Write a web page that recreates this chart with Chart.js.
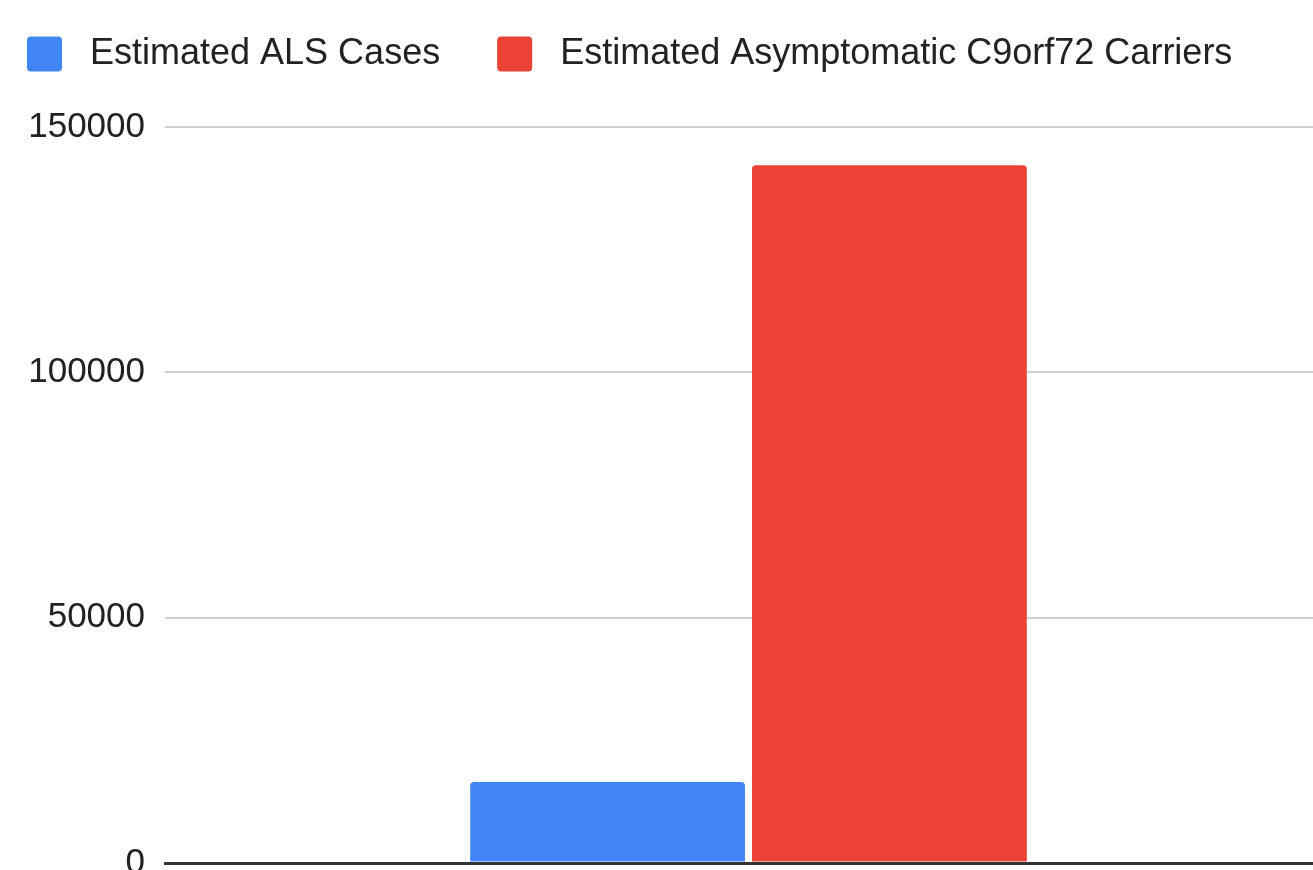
<!DOCTYPE html>
<html>

<head>
  <title>Estimated ALS Cases and Asymptomatic C9orf72 Carriers</title>
  <meta charset="UTF-8">
  <script src="https://cdn.jsdelivr.net/npm/chart.js@4.4.0/dist/chart.umd.min.js"></script>
  <style>
    html, body { margin: 0; padding: 0; overflow: hidden; background: #fff; }
    #wrap { position: absolute; left: 0; top: 0; width: 1345px; height: 904px; }
  </style>
</head>

<body>
  <div id="wrap"><canvas id="myChart"></canvas></div>
  <script>
    var categories = [''];
    var alsCases = [16500];
    var c9orf72Carriers = [142200];
    var seriesNames = ['Estimated ALS Cases', 'Estimated Asymptomatic C9orf72 Carriers'];
    var yMin = 0;
    var yMax = 150000;
    var yStep = 50000;

    Chart.defaults.font.family = 'Arial, "Liberation Sans", sans-serif';
    Chart.defaults.color = '#222';

    // extra room below the legend
    var legendGap = {
      id: 'legendGap',
      beforeInit: function(chart) {
        var fit = chart.legend.fit;
        chart.legend.fit = function() {
          fit.bind(chart.legend)();
          this.height += 45;
        };
      }
    };

    var ctx = document.getElementById('myChart').getContext('2d');
    var chart = new Chart(ctx, {
      type: 'bar',
      data: {
        labels: categories,
        datasets: [{
          label: seriesNames[0],
          data: alsCases,
          backgroundColor: '#4285F4',
          borderRadius: { topLeft: 4, topRight: 4 },
          borderSkipped: 'bottom',
          categoryPercentage: 0.483,
          barPercentage: 0.975
        }, {
          label: seriesNames[1],
          data: c9orf72Carriers,
          backgroundColor: '#EA4335',
          borderRadius: { topLeft: 4, topRight: 4 },
          borderSkipped: 'bottom',
          categoryPercentage: 0.483,
          barPercentage: 0.975
        }]
      },
      options: {
        responsive: true,
        maintainAspectRatio: false,
        animation: false,
        layout: { padding: { top: 9, right: 13, bottom: 0, left: 0 } },
        plugins: {
          title: { display: false },
          tooltip: { enabled: false },
          legend: {
            position: 'top',
            align: 'start',
            labels: {
              boxWidth: 35,
              boxHeight: 35,
              useBorderRadius: true,
              borderRadius: 4,
              padding: 27,
              font: { size: 36 },
              generateLabels: function(c) {
                var items = Chart.defaults.plugins.legend.labels.generateLabels(c);
                items.forEach(function(it) { it.text = ' ' + it.text + '   '; it.lineWidth = 0; });
                return items;
              }
            }
          }
        },
        scales: {
          x: {
            grid: { display: false },
            border: { display: true, color: '#333', width: 3 },
            ticks: { display: false }
          },
          y: {
            min: yMin,
            max: yMax,
            ticks: { stepSize: yStep, padding: 20, font: { size: 35 }, color: '#222', format: { useGrouping: false } },
            grid: {
              drawTicks: false,
              color: function(c) { return c.tick && c.tick.value === 0 ? '#333' : '#cfcfcf'; },
              lineWidth: function(c) { return c.tick && c.tick.value === 0 ? 3 : 2; }
            },
            border: { display: false },
            afterFit: function(scale) { scale.width = 165; }
          }
        }
      },
      plugins: [legendGap]
    });
  </script>
</body>

</html>
